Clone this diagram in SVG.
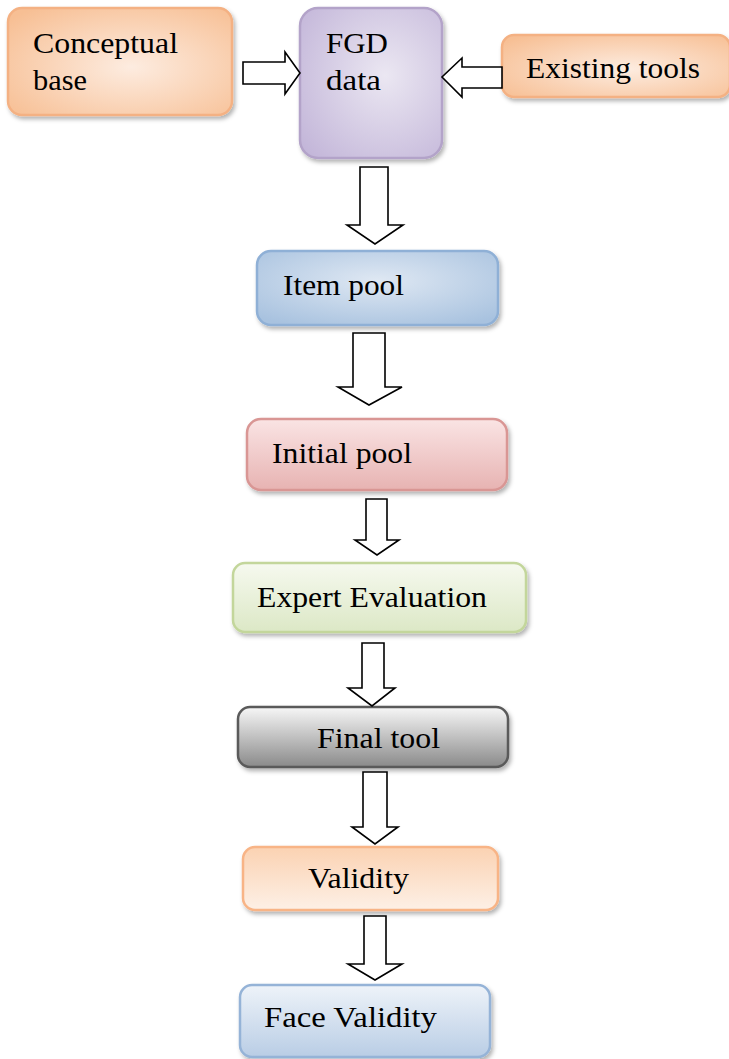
<svg xmlns="http://www.w3.org/2000/svg" width="729" height="1059" viewBox="0 0 729 1059">
<style>
.box{stroke-width:2.5;filter:url(#sh)}
.t{font-family:'Liberation Serif',serif;font-size:29px;fill:#000}
.arr{fill:#fff;stroke:#000;stroke-width:1.6;stroke-linejoin:miter}
</style>
<defs>
<filter id="sh" x="-10%" y="-10%" width="125%" height="130%">
<feDropShadow dx="2" dy="3" stdDeviation="2" flood-color="#000" flood-opacity="0.3"/>
</filter>
<radialGradient id="gOr" cx="0.55" cy="0.55" r="0.7">
<stop offset="0" stop-color="#fdece0"/><stop offset="1" stop-color="#f7bf94"/>
</radialGradient>
<radialGradient id="gPu" cx="0.6" cy="0.45" r="0.75">
<stop offset="0" stop-color="#ebe7f2"/><stop offset="1" stop-color="#c3b6d9"/>
</radialGradient>
<radialGradient id="gBl" cx="0.5" cy="0.4" r="0.7">
<stop offset="0" stop-color="#dfe8f3"/><stop offset="1" stop-color="#a8c2df"/>
</radialGradient>
<linearGradient id="gPk" x1="0" y1="0" x2="0" y2="1">
<stop offset="0" stop-color="#fae4e4"/><stop offset="1" stop-color="#e7b3b2"/>
</linearGradient>
<linearGradient id="gGr" x1="0" y1="0" x2="0" y2="1">
<stop offset="0" stop-color="#f6f9ef"/><stop offset="1" stop-color="#dce8c6"/>
</linearGradient>
<linearGradient id="gGy" x1="0" y1="0" x2="0" y2="1">
<stop offset="0" stop-color="#f7f7f7"/><stop offset="1" stop-color="#8a8a8a"/>
</linearGradient>
<linearGradient id="gVa" x1="0" y1="0" x2="0" y2="1">
<stop offset="0" stop-color="#fbd2b2"/><stop offset="1" stop-color="#fdf0e6"/>
</linearGradient>
<linearGradient id="gFv" x1="0" y1="0" x2="0" y2="1">
<stop offset="0" stop-color="#eef3f9"/><stop offset="1" stop-color="#b9cde5"/>
</linearGradient>
</defs>

<g id="conceptual-base">
<rect class="box" x="8" y="8" width="224" height="107" rx="14" fill="url(#gOr)" stroke="#f4b183"/>
<text class="t" x="33" y="53" textLength="145" lengthAdjust="spacingAndGlyphs">Conceptual</text>
<text class="t" x="33" y="90" textLength="54" lengthAdjust="spacingAndGlyphs">base</text>
</g>
<g id="fgd-data">
<rect class="box" x="300" y="8" width="142" height="150" rx="18" fill="url(#gPu)" stroke="#b3a3c9"/>
<text class="t" x="326" y="53" textLength="62" lengthAdjust="spacingAndGlyphs">FGD</text>
<text class="t" x="326" y="90" textLength="55" lengthAdjust="spacingAndGlyphs">data</text>
</g>
<g id="existing-tools">
<rect class="box" x="502" y="35" width="228" height="62" rx="12" fill="url(#gOr)" stroke="#f4b183"/>
<text class="t" x="526" y="78" textLength="174" lengthAdjust="spacingAndGlyphs">Existing tools</text>
</g>
<g id="item-pool">
<rect class="box" x="257" y="251" width="241" height="74" rx="14" fill="url(#gBl)" stroke="#8fb0d6"/>
<text class="t" x="283" y="295" textLength="121" lengthAdjust="spacingAndGlyphs">Item pool</text>
</g>
<g id="initial-pool">
<rect class="box" x="247" y="419" width="260" height="71" rx="14" fill="url(#gPk)" stroke="#d99694"/>
<text class="t" x="272" y="463" textLength="140" lengthAdjust="spacingAndGlyphs">Initial pool</text>
</g>
<g id="expert-evaluation">
<rect class="box" x="233" y="563" width="293" height="69" rx="12" fill="url(#gGr)" stroke="#c3d69b"/>
<text class="t" x="257" y="607" textLength="230" lengthAdjust="spacingAndGlyphs">Expert Evaluation</text>
</g>
<g id="final-tool">
<rect class="box" x="238" y="707" width="270" height="60" rx="12" fill="url(#gGy)" stroke="#5a5a5a"/>
<text class="t" x="317" y="748" textLength="123" lengthAdjust="spacingAndGlyphs">Final tool</text>
</g>
<g id="validity">
<rect class="box" x="243" y="847" width="255" height="63" rx="12" fill="url(#gVa)" stroke="#f8b486"/>
<text class="t" x="308" y="888" textLength="101" lengthAdjust="spacingAndGlyphs">Validity</text>
</g>
<g id="face-validity">
<rect class="box" x="240" y="985" width="250" height="72" rx="12" fill="url(#gFv)" stroke="#95b3d7"/>
<text class="t" x="264" y="1027" textLength="173" lengthAdjust="spacingAndGlyphs">Face Validity</text>
</g>

<g id="connectors">
<path class="arr" d="M243,62 H285 V52 L300,73 L285,94 V84 H243 Z"/>
<path class="arr" d="M502,67 H462 V58 L442,77 L462,97 V88 H502 Z"/>
<path class="arr" d="M360,167 H388 V225 H403 L375,244 L347,225 H360 Z"/>
<path class="arr" d="M353,333 H385 V387 H402 L369,405 L338,387 H353 Z"/>
<path class="arr" d="M366,499 H387 V540 H399 L377,555 L355,540 H366 Z"/>
<path class="arr" d="M362,643 H384 V688 H395 L372,706 L348,688 H362 Z"/>
<path class="arr" d="M363,772 H387 V827 H398 L375,844 L352,827 H363 Z"/>
<path class="arr" d="M364,916 H386 V964 H402 L375,980 L348,964 H364 Z"/>
</g>
</svg>
